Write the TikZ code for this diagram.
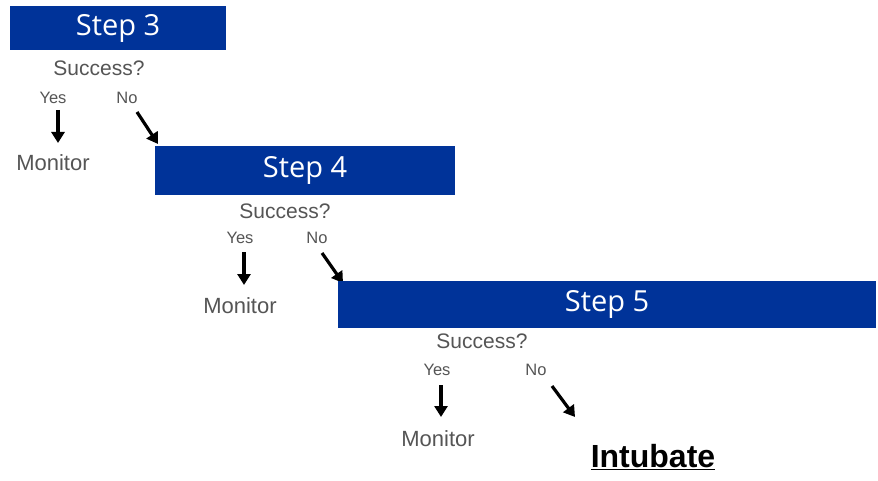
\documentclass[tikz,border=0pt]{standalone}
\usepackage{fontspec}
\setmainfont{Liberation Sans}
\newfontfamily\stepfont{Open Sans}
\usetikzlibrary{arrows.meta}
\definecolor{boxblue}{RGB}{0,51,153}
\definecolor{txtgray}{RGB}{85,85,85}
\tikzset{
  stepbox/.style={fill=boxblue, draw=none, inner sep=0pt, text=white, font=\stepfont\fontsize{29}{32}\selectfont},
  succ/.style={text=txtgray, font=\fontsize{21}{24}\selectfont, inner sep=0pt},
  yn/.style={text=txtgray, font=\fontsize{16.5}{19}\selectfont, inner sep=0pt},
  mon/.style={text=txtgray, font=\fontsize{22}{26}\selectfont, inner sep=0pt},
  arr/.style={line width=3.2pt, -{Triangle[length=11pt,width=13pt]}}
}
\begin{document}
\begin{tikzpicture}[x=1pt,y=-1pt]
\useasboundingbox[fill=white] (0,0) rectangle (878,481);
% Step 3
\node[stepbox, minimum width=216pt, minimum height=44pt] (s3) at (118,28) {\raisebox{-2pt}{Step 3}};
\node[succ] (q3) at (99,68) {Success?};
\node[yn] (y3) at (53,98) {Yes};
\node[yn] (n3) at (127,98) {No};
\node[mon] (m3) at (53,163) {Monitor};
\coordinate (y3a) at (58,110);
\coordinate (y3b) at (58,143);
\coordinate (n3a) at (137,112);
\coordinate (n3b) at (158,144);
\draw[arr] (y3a) -- (y3b);
\draw[arr] (n3a) -- (n3b);
% Step 4
\node[stepbox, minimum width=300pt, minimum height=49pt] (s4) at (305,170.5) {\raisebox{-2pt}{Step 4}};
\node[succ] (q4) at (285,211) {Success?};
\node[yn] (y4) at (240,238) {Yes};
\node[yn] (n4) at (317,238) {No};
\node[mon] (m4) at (240,306) {Monitor};
\coordinate (y4a) at (244,252);
\coordinate (y4b) at (244,285);
\coordinate (n4a) at (322,253);
\coordinate (n4b) at (343,283);
\draw[arr] (y4a) -- (y4b);
\draw[arr] (n4a) -- (n4b);
% Step 5
\node[stepbox, minimum width=538pt, minimum height=47pt] (s5) at (607,304.5) {\raisebox{-2pt}{Step 5}};
\node[succ] (q5) at (482,341) {Success?};
\node[yn] (y5) at (437,370) {Yes};
\node[yn] (n5) at (536,370) {No};
\node[mon] (m5) at (438,439) {Monitor};
\coordinate (y5a) at (441,385);
\coordinate (y5b) at (441,417);
\coordinate (n5a) at (552,386);
\coordinate (n5b) at (575,417);
\draw[arr] (y5a) -- (y5b);
\draw[arr] (n5a) -- (n5b);
\node[inner sep=0pt, font=\bfseries\fontsize{32}{36}\selectfont] (intu) at (653,457) {\underline{Intubate}};
\end{tikzpicture}
\end{document}
